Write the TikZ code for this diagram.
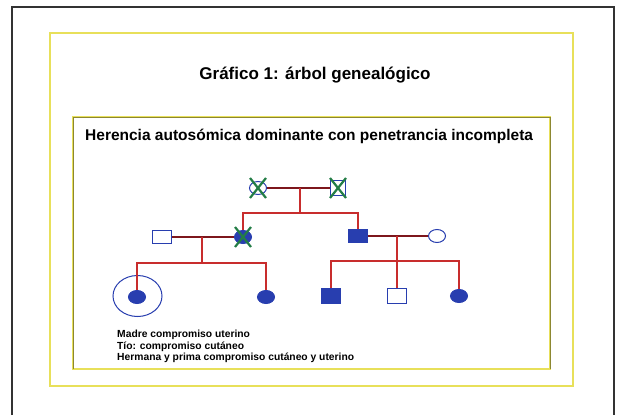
\documentclass[tikz,border=0pt]{standalone}
\usepackage{fontspec}
\setmainfont{Liberation Sans}
\usetikzlibrary{shapes.geometric,calc}
\definecolor{pedblue}{RGB}{40,62,175}
\definecolor{pedred}{RGB}{200,45,45}
\definecolor{peddark}{RGB}{125,22,28}
\definecolor{xgreen}{RGB}{35,125,70}
\definecolor{frameyel}{RGB}{232,224,90}
\definecolor{frameolive}{RGB}{140,135,50}
\tikzset{
  male/.style={rectangle, draw=pedblue, line width=1pt, minimum width=19pt,
    minimum height=13pt, inner sep=0pt},
  female/.style={ellipse, draw=pedblue, line width=1pt, minimum width=17pt,
    minimum height=13pt, inner sep=0pt},
  affected/.style={fill=pedblue},
  marr/.style={draw=peddark, line width=2pt},
  desc/.style={draw=pedred, line width=1.6pt},
  dead/.style={draw=xgreen, line width=2.2pt},
  legend/.style={font=\fontsize{10.3}{12}\selectfont\bfseries, anchor=west, inner sep=0pt},
}
\newcommand{\deadmark}[1]{%
  \draw[dead] ([shift={(-8,-10)}]#1.center) -- ([shift={(8,10)}]#1.center);
  \draw[dead] ([shift={(-8,10)}]#1.center) -- ([shift={(8,-10)}]#1.center);}

\begin{document}
\begin{tikzpicture}[x=1pt, y=-1pt]
\useasboundingbox (0,0) rectangle (618,415);
% Frames
\draw[black!80, line width=2pt] (12,415) -- (12,7) -- (614,7) -- (614,415);
\draw[frameyel, line width=1.6pt] (50,33) rectangle (573,386);
\draw[frameyel, line width=1.6pt] (73,117) rectangle (550,369);
\draw[frameolive, line width=0.7pt] (73,369) -- (73,117) -- (550,117) -- (550,369);
% Titles
\node[font=\fontsize{17}{20}\selectfont\bfseries] (title) at (315,75)
  {Gráfico 1: árbol genealógico};
\node[font=\fontsize{15.5}{18}\selectfont\bfseries, anchor=west, inner sep=0pt] (head)
  at (85,136) {Herencia autosómica dominante con penetrancia incompleta};
% Generation I
\node[female] (i1) at (258,188) {};
\node[male, minimum width=15pt, minimum height=15pt] (i2) at (338,188) {};
\coordinate (c1) at (300,188);
\coordinate (s1) at (300,213);
% Generation II
\node[male] (ii1) at (162,237) {};
\node[female, affected] (ii2) at (243,237) {};
\node[male, affected] (ii3) at (358,236) {};
\node[female] (ii4) at (437,236) {};
\coordinate (c2) at (202,237);
\coordinate (s2) at (202,263);
\coordinate (c3) at (397,236);
\coordinate (s3) at (397,261);
% Generation III
\node[female, affected] (iii1) at (137,297) {};
\node[ellipse, draw=pedblue, line width=1pt, minimum width=49pt,
  minimum height=41pt, inner sep=0pt] (ring) at (137.5,296) {};
\node[female, affected] (iii2) at (266,297) {};
\node[male, affected, minimum height=15pt] (iii3) at (331,296) {};
\node[male, minimum height=15pt] (iii4) at (397,296) {};
\node[female, affected] (iii5) at (459,296) {};
% Lines
\draw[marr] (i1) -- (i2);
\draw[desc] (c1) -- (s1);
\draw[desc] (ii2.north) |- (s1) -| (ii3.north);
\draw[marr] (ii1) -- (ii2);
\draw[desc] (c2) -- (s2);
\draw[desc] (iii1.north) |- (s2) -| (iii2.north);
\draw[marr] (ii3) -- (ii4);
\draw[desc] (c3) -- (s3);
\draw[desc] (iii3.north) |- (s3) -| (iii5.north);
\draw[desc] (s3) -- (iii4.north);
% Deceased
\deadmark{i1}
\deadmark{i2}
\deadmark{ii2}
% Legend
\node[legend] (l1) at (117,335) {Madre compromiso uterino};
\node[legend] (l2) at (117,346.5) {Tío: compromiso cutáneo};
\node[legend] (l3) at (117,358) {Hermana y prima compromiso cutáneo y uterino};
\end{tikzpicture}
\end{document}
